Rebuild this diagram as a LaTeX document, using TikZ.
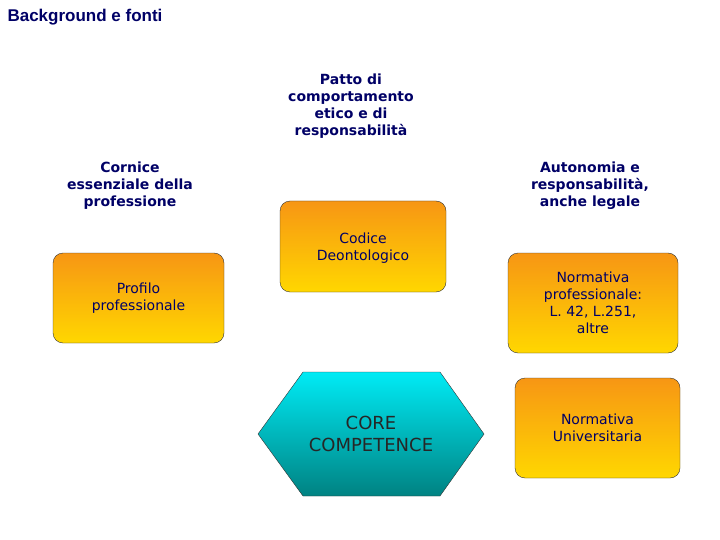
\documentclass[tikz,border=0pt]{standalone}
\usepackage{fontspec}
\setmainfont{DejaVu Sans}
\newfontfamily\titlefont{Liberation Sans}
\definecolor{navy}{RGB}{0,0,102}
\tikzset{
 box/.style={draw=black!80,rounded corners=10pt,top color={rgb,255:red,247;green,150;blue,20},bottom color={rgb,255:red,255;green,215;blue,0},align=center,font=\fontsize{14}{17}\selectfont,text=navy},
 lab/.style={align=center,font=\bfseries\fontsize{14}{17}\selectfont,text=navy}
}
\begin{document}
\begin{tikzpicture}[x=1pt,y=-1pt]
\useasboundingbox (0,0) rectangle (720,540);
\node[anchor=north west,font=\titlefont\bfseries\fontsize{17}{20}\selectfont,text=navy] (title) at (4,6) {Background e fonti};
\node[lab] (cornice) at (130,186) {Cornice\\essenziale della\\professione};
\node[lab] (patto) at (351,106) {Patto di\\comportamento\\etico e di\\responsabilità};
\node[lab] (auton) at (590,186) {Autonomia e\\responsabilità,\\anche legale};
\node[box,minimum width=171pt,minimum height=90pt] (profilo) at (138.5,298) {Profilo\\professionale};
\path[box,minimum width=166pt,minimum height=91pt] (280,201) rectangle (446,292);
\node[align=center,font=\fontsize{14}{17}\selectfont,text=navy] (codice) at (363,248) {Codice\\Deontologico};
\node[box,minimum width=170pt,minimum height=100pt] (normprof) at (593,303) {Normativa\\professionale:\\L. 42, L.251,\\altre};
\node[box,minimum width=165pt,minimum height=100pt] (normuni) at (597.5,428) {Normativa\\Universitaria};
\path[draw=black!80,top color={rgb,255:red,0;green,235;blue,245},bottom color={rgb,255:red,0;green,130;blue,130}] (258,434) -- (303,372) -- (440,372) -- (484,434) -- (440,496) -- (303,496) -- cycle;
\node[align=center,font=\fontsize{18}{22}\selectfont,text=black!85] (core) at (371,434) {CORE\\COMPETENCE};
\end{tikzpicture}
\end{document}
